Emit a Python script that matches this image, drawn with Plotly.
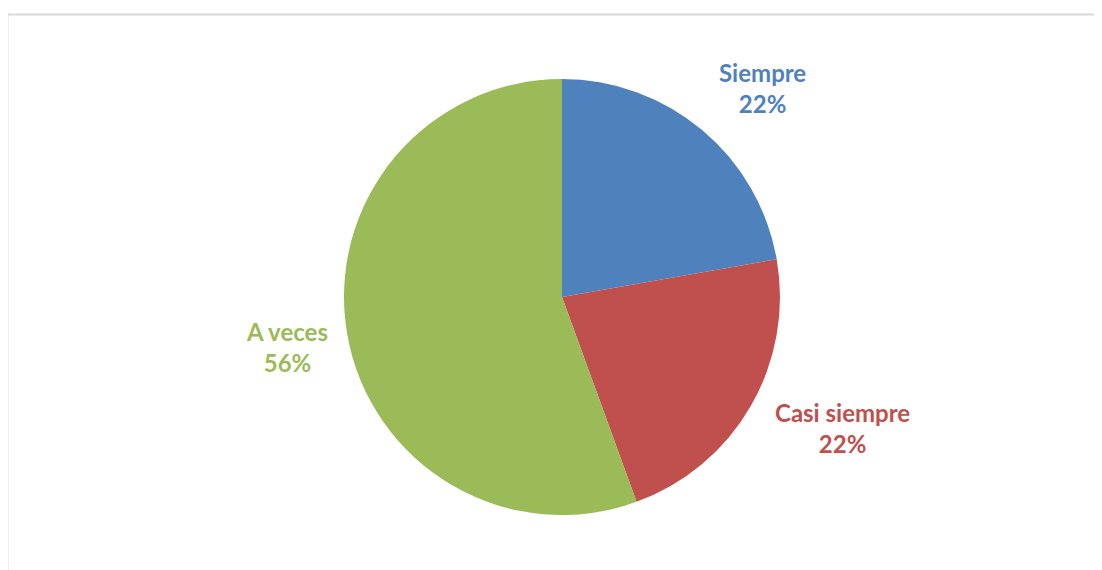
import plotly.graph_objects as go

labels = ["Siempre", "Casi siempre", "A veces"]
values = [2, 2, 5]
colors = ["#4F81BD", "#C0504D", "#9BBB59"]

W, H = 1102, 570
OX, OY = 8, 7  # page body margin offset
total = sum(values)
pcts = [round(v / total * 100) for v in values]


def px(x):
    return (x - OX) / W


def py(y):
    return 1 - (y - OY) / H


fig = go.Figure(go.Pie(
    labels=labels, values=values, sort=False, direction="clockwise", rotation=0,
    marker=dict(colors=colors, line=dict(width=0)),
    textinfo="none", hoverinfo="label+percent", showlegend=False,
    domain=dict(x=[px(344), px(780)], y=[py(514), py(78)]),
))

label_pos = [(762, 87), (842, 427), (287, 346)]
for lab, p, c, (lx, ly) in zip(labels, pcts, colors, label_pos):
    fig.add_annotation(
        x=px(lx), y=py(ly), xref="paper", yref="paper", showarrow=False,
        xanchor="center", yanchor="middle",
        text=f"<b>{lab}<br>{p}%</b>", align="center",
        font=dict(family="Lato, Open Sans, sans-serif", size=24, color=c),
    )

fig.add_shape(type="rect", xref="paper", yref="paper",
              x0=px(7.5), x1=1.05, y0=-0.05, y1=py(13.5),
              line=dict(color="#D9D9D9", width=2), fillcolor="rgba(0,0,0,0)")

fig.update_layout(
    width=W, height=H, margin=dict(l=0, r=0, t=0, b=0),
    paper_bgcolor="white", plot_bgcolor="white",
)
fig.write_html("out.html")
